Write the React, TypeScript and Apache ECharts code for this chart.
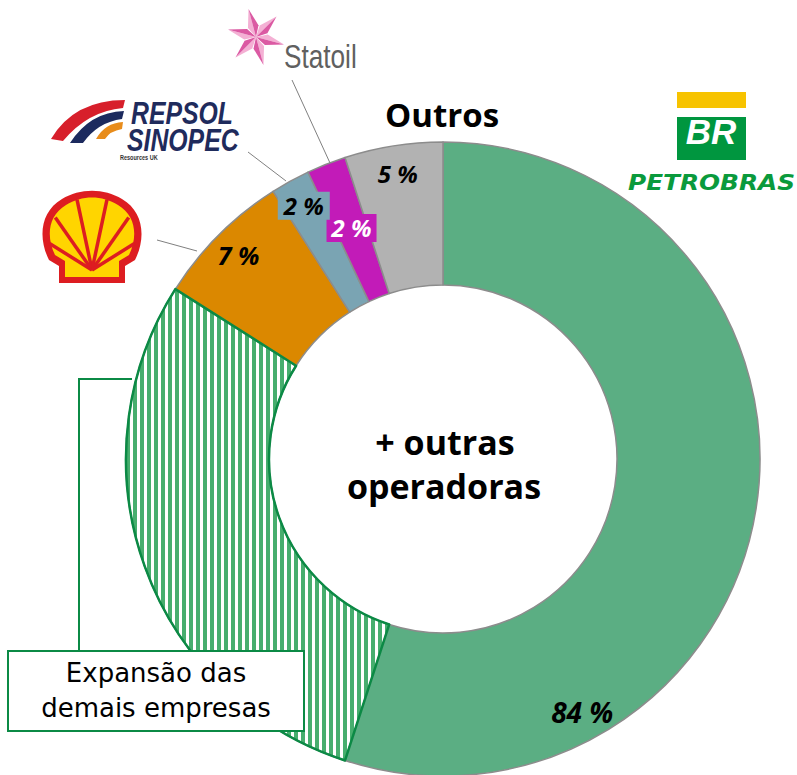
import React, { useEffect, useRef } from 'react';
import * as echarts from 'echarts';

// ---- data ----
const companies = ['Petrobras', 'Shell', 'Repsol Sinopec', 'Statoil', 'Outros'];
const shares = [84, 7, 2, 2, 5];
// the Petrobras 84 % wedge is drawn in two parts
const petrobrasParts = ['Petrobras', 'Expansão das demais empresas'];
const petrobrasPartShares = [55, 29];
const companyColors = ['#5BAE83', '#DB8800', '#7AA4B3', '#C21BB8', '#B2B2B2'];
const centerLines = ['+ outras', 'operadoras'];
const expansionLines = ['Expansão das', 'demais empresas'];

// ---- logo shapes ----
const shellOuterD =
  'M 59 283 L 59 266 L 49 260 C 38 238 40 212 62 199 C 80 188 104 188 122 199 C 144 212 146 238 135 260 L 125 266 L 125 283 Z';
const shellInnerD =
  'M 65 277 L 65 261 L 55 255 C 46 236 48 216 66 205 C 82 195 102 195 118 205 C 136 216 138 236 129 255 L 119 261 L 119 277 Z';
const repsolRedD = 'M 51 139 Q 74 100 125 100 L 123 108 Q 88 111 63 141 Z';
const repsolNavyD = 'M 70 143 Q 90 112 124 111 L 122 119 Q 98 122 83 143 Z';
const repsolOrangeD = 'M 96 139 Q 105 123 123 122 L 122 129 Q 110 131 105 139 Z';
echarts.graphic.registerShape('shellOuter', echarts.graphic.extendPath(shellOuterD, {}));
echarts.graphic.registerShape('shellInner', echarts.graphic.extendPath(shellInnerD, {}));
echarts.graphic.registerShape('repsolRed', echarts.graphic.extendPath(repsolRedD, {}));
echarts.graphic.registerShape('repsolNavy', echarts.graphic.extendPath(repsolNavyD, {}));
echarts.graphic.registerShape('repsolOrange', echarts.graphic.extendPath(repsolOrangeD, {}));

function polar(cx: number, cy: number, r: number, deg: number): number[] {
  const a = (deg * Math.PI) / 180;
  return [cx + r * Math.sin(a), cy - r * Math.cos(a)];
}

function statoilStar(): any[] {
  const cx = 256, cy = 37;
  const out: any[] = [];
  for (let i = 0; i < 6; i++) {
    const a = -15 + 60 * i;
    const tip = polar(cx, cy, 29, a);
    const sl = polar(cx, cy, 12, a - 27);
    const sr = polar(cx, cy, 12, a + 27);
    out.push({ type: 'polygon', silent: true, shape: { points: [[cx, cy], sl, tip] }, style: { fill: '#F4B0D4' } });
    out.push({ type: 'polygon', silent: true, shape: { points: [[cx, cy], tip, sr] }, style: { fill: '#DB5AA3' } });
  }
  return out;
}

function shellRibs(): any[] {
  const fx = 92, fy = 270;
  const ribs = [
    [-58, 50], [-35, 64], [-12, 72], [12, 72], [35, 64], [58, 50],
  ];
  return ribs.map(([a, len]) => {
    const p = polar(fx, fy, len, a);
    return {
      type: 'line',
      silent: true,
      shape: { x1: fx, y1: fy, x2: p[0], y2: p[1] },
      style: { stroke: '#DD1D21', lineWidth: 3.5 },
    };
  });
}

export default function App() {
  const ref = useRef<HTMLDivElement>(null);

  useEffect(() => {
    document.body.style.margin = '0';
    if (!ref.current) return;
    const chart = echarts.init(ref.current, null, { renderer: 'svg' });

    const sliceBorder = '#8C8C8C';
    const hatchBorder = '#0B8A45';

    const baseData = [
      { name: petrobrasParts[0], value: petrobrasPartShares[0], itemStyle: { color: companyColors[0] } },
      {
        name: petrobrasParts[1],
        value: petrobrasPartShares[1],
        itemStyle: {
          color: '#FFFFFF',
          decal: {
            symbol: 'rect',
            symbolSize: 1,
            dashArrayX: [4, 3],
            dashArrayY: [10, 0],
            rotation: 0,
            color: '#47AE6E',
            backgroundColor: '#FFFFFF',
          },
        },
      },
      ...companies.slice(1).map((c, i) => ({
        name: c,
        value: shares[i + 1],
        itemStyle: { color: companyColors[i + 1] },
        label:
          c === 'Statoil'
            ? {
                show: true,
                color: '#FFFFFF',
                backgroundColor: companyColors[i + 1],
                padding: [3, 5, 1, 5],
              }
            : { show: false },
      })),
    ];

    const overlayData = baseData.map((d, i) => ({
      name: d.name,
      value: d.value,
      itemStyle:
        i === 1
          ? { color: 'transparent', borderColor: hatchBorder, borderWidth: 2.5 }
          : { color: 'transparent', borderWidth: 0 },
    }));

    const labelFont = { fontFamily: 'Open Sans', fontWeight: 'bold', fontStyle: 'italic' };
    const labelData = companies.map((c, i) => {
      let label: any = { show: true, color: '#000000', fontSize: 24 };
      if (c === 'Petrobras') label = { show: true, color: '#000000', fontSize: 28 };
      if (c === 'Shell') label = { show: true, color: '#000000', fontSize: 25 };
      if (c === 'Repsol Sinopec')
        label = {
          show: true,
          color: '#000000',
          fontSize: 24,
          backgroundColor: companyColors[2],
          padding: [3, 6, 1, 6],
        };
      if (c === 'Statoil') label = { show: false };
      return { name: c, value: shares[i], label };
    });

    const textEl = (text: string, x: number, y: number, font: string, fill: string, extra: any = {}) => ({
      type: 'text',
      x,
      y,
      z: 20,
      silent: true,
      ...extra,
      style: {
        text,
        font,
        fill,
        textAlign: extra.align || 'center',
        textVerticalAlign: 'middle',
        lineHeight: extra.lineHeight,
      },
    });

    const graphics: any[] = [
      // Outros heading
      textEl('Outros', 442, 114, 'bold 33px "Open Sans"', '#000000'),
      // centre text
      textEl(centerLines[0], 445, 442, 'bold 34px "Open Sans"', '#000000'),
      textEl(centerLines[1], 444, 486, 'bold 34px "Open Sans"', '#000000'),
      // leader lines
      { type: 'line', z: 20, silent: true, shape: { x1: 292, y1: 80, x2: 330, y2: 163 }, style: { stroke: '#808080', lineWidth: 1 } },
      { type: 'line', z: 20, silent: true, shape: { x1: 248, y1: 152, x2: 286, y2: 181 }, style: { stroke: '#808080', lineWidth: 1 } },
      { type: 'line', z: 20, silent: true, shape: { x1: 157, y1: 240, x2: 197, y2: 251 }, style: { stroke: '#808080', lineWidth: 1 } },
      // expansion callout
      {
        type: 'polyline',
        z: 20,
        silent: true,
        shape: { points: [[79, 651], [79, 379], [132, 379]] },
        style: { stroke: hatchBorder, lineWidth: 2, fill: 'none' },
      },
      {
        type: 'rect',
        z: 20,
        silent: true,
        shape: { x: 8, y: 651, width: 296, height: 80 },
        style: { fill: '#FFFFFF', stroke: hatchBorder, lineWidth: 2 },
      },
      textEl(expansionLines.join('\n'), 156, 690, '26px "DejaVu Sans"', '#000000', { z: 21, lineHeight: 35 }),
      // Statoil logo
      ...statoilStar(),
      textEl('Statoil', 284, 56, '34px "Liberation Sans"', '#606060', { align: 'left', scaleX: 0.77 }),
      // Repsol Sinopec logo
      { type: 'repsolRed', silent: true, x: 0, y: 0, style: { fill: '#D71F2B' } },
      { type: 'repsolNavy', silent: true, x: 0, y: 0, style: { fill: '#1C2A5E' } },
      { type: 'repsolOrange', silent: true, x: 0, y: 0, style: { fill: '#E88C1B' } },
      textEl('REPSOL', 131, 114, 'italic bold 31px "Liberation Sans"', '#1F2B5C', { align: 'left', scaleX: 0.8 }),
      textEl('SINOPEC', 127, 141, 'italic bold 31px "Liberation Sans"', '#1F2B5C', { align: 'left', scaleX: 0.8 }),
      textEl('Resources UK', 120, 158, 'bold 6.5px "Liberation Sans"', '#333333', { align: 'left', scaleX: 0.85 }),
      // Shell logo
      { type: 'shellOuter', silent: true, x: 0, y: 0, style: { fill: '#DD1D21' } },
      { type: 'shellInner', silent: true, x: 0, y: 0, style: { fill: '#FFD500' } },
      ...shellRibs(),
      // Petrobras logo
      { type: 'rect', silent: true, shape: { x: 677, y: 92, width: 69, height: 16 }, style: { fill: '#F7C300' } },
      { type: 'rect', silent: true, shape: { x: 677, y: 117, width: 69, height: 43 }, style: { fill: '#00963F' } },
      textEl('BR', 711, 131, 'italic bold 35px "Liberation Sans"', '#FFFFFF'),
      textEl('PETROBRAS', 628, 183, 'italic bold 21px "DejaVu Sans"', '#0A9A3C', { align: 'left', scaleX: 1.18 }),
    ];

    chart.setOption({
      animation: false,
      backgroundColor: '#FFFFFF',
      series: [
        {
          type: 'pie',
          name: 'base',
          z: 2,
          silent: true,
          center: [443, 459],
          radius: [174, 317],
          startAngle: 90,
          clockwise: true,
          avoidLabelOverlap: false,
          labelLayout: { hideOverlap: false },
          emphasis: { disabled: true },
          itemStyle: { borderColor: sliceBorder, borderWidth: 1.5 },
          label: { show: false, position: 'inside', rotate: 0, formatter: '{c} %', fontSize: 24, ...labelFont },
          labelLine: { show: false },
          data: baseData,
        },
        {
          type: 'pie',
          name: 'hatchBorder',
          z: 3,
          silent: true,
          center: [443, 459],
          radius: [174, 317],
          startAngle: 90,
          clockwise: true,
          emphasis: { disabled: true },
          label: { show: false },
          labelLine: { show: false },
          data: overlayData,
        },
        {
          type: 'pie',
          name: 'labels',
          z: 4,
          silent: true,
          center: [443, 459],
          radius: [256, 316],
          startAngle: 90,
          clockwise: true,
          avoidLabelOverlap: false,
          labelLayout: { hideOverlap: false },
          emphasis: { disabled: true },
          itemStyle: { color: 'transparent', borderWidth: 0 },
          label: { show: true, position: 'inside', rotate: 0, formatter: '{c} %', ...labelFont },
          labelLine: { show: false },
          data: labelData,
        },
      ],
      graphic: { elements: graphics },
    });

    return () => chart.dispose();
  }, []);

  return <div ref={ref} style={{ width: 797, height: 775 }} />;
}
